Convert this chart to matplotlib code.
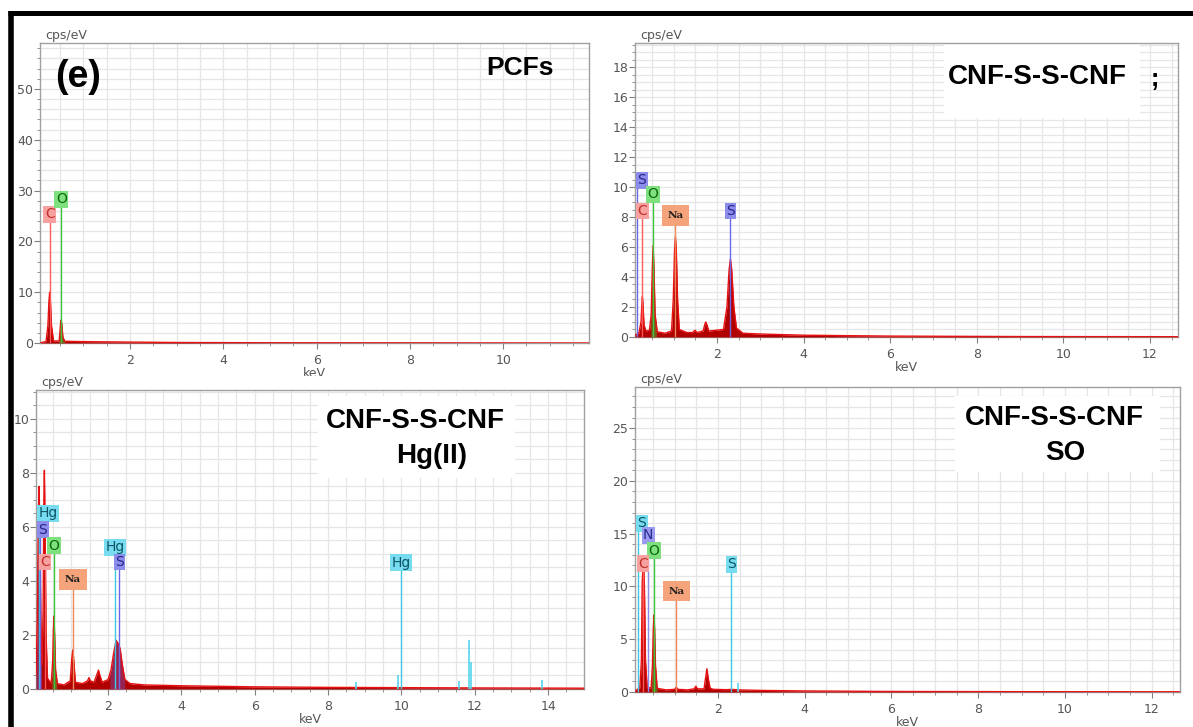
import matplotlib
matplotlib.use("Agg")
import numpy as np
import matplotlib.pyplot as plt
from matplotlib.ticker import MultipleLocator
from matplotlib.lines import Line2D
from matplotlib.patches import Rectangle
from matplotlib.transforms import Bbox, TransformedBbox

W, H = 1193, 727

# ---- spectra (keV, cps/eV) ----
pcf_kev = [0.07, 0.20, 0.24, 0.26, 0.277, 0.295, 0.315, 0.36, 0.48, 0.50, 0.515, 0.525, 0.54,
           0.56, 0.60, 0.8, 1.2, 2.0, 3.0, 5.0, 11.84]
pcf_cps = [0.0, 0.3, 3.5, 8.0, 10.0, 8.0, 3.5, 0.4, 0.4, 2.5, 4.2, 4.5, 3.5,
           1.2, 0.35, 0.3, 0.25, 0.18, 0.1, 0.05, 0.0]

ss_kev = [0.106, 0.2, 0.245, 0.265, 0.277, 0.29, 0.315, 0.36, 0.44, 0.48, 0.505, 0.525, 0.545,
          0.57, 0.62, 0.8, 0.95, 0.99, 1.02, 1.04, 1.06, 1.09, 1.13, 1.3, 1.44, 1.49, 1.54,
          1.68, 1.72, 1.74, 1.77, 1.81, 2.15, 2.23, 2.28, 2.31, 2.34, 2.39, 2.45, 2.6, 3.0,
          4.0, 6.0, 9.0, 12.65]
ss_cps = [0.1, 0.3, 1.0, 2.2, 2.7, 2.2, 0.8, 0.4, 0.45, 1.5, 4.5, 6.1, 4.5,
          1.5, 0.35, 0.25, 0.4, 2.5, 5.8, 6.7, 5.8, 2.5, 0.5, 0.3, 0.3, 0.45, 0.3,
          0.4, 0.85, 1.0, 0.8, 0.4, 0.5, 2.0, 4.5, 5.2, 4.5, 2.0, 0.6, 0.25, 0.2,
          0.12, 0.06, 0.03, 0.02]

hg_kev = [0.036, 0.07, 0.10, 0.12, 0.14, 0.17, 0.2, 0.23, 0.25, 0.265, 0.28, 0.31, 0.35, 0.45,
          0.49, 0.51, 0.525, 0.545, 0.57, 0.62, 0.8, 0.97, 1.01, 1.04, 1.07, 1.11, 1.3, 1.44,
          1.48, 1.52, 1.62, 1.70, 1.74, 1.78, 1.84, 2.0, 2.08, 2.15, 2.22, 2.27, 2.33, 2.39,
          2.46, 2.6, 3.0, 4.0, 6.0, 8.0, 10.0, 12.0, 14.98]
hg_cps = [0.5, 2.5, 6.5, 7.5, 6.0, 2.5, 0.9, 3.0, 7.0, 8.1, 6.5, 2.0, 0.4, 0.2,
          1.0, 2.2, 2.7, 2.0, 0.7, 0.2, 0.15, 0.3, 1.1, 1.45, 1.0, 0.25, 0.2, 0.3,
          0.42, 0.3, 0.25, 0.55, 0.7, 0.5, 0.25, 0.35, 0.7, 1.3, 1.8, 1.7, 1.5, 0.9,
          0.35, 0.2, 0.15, 0.12, 0.08, 0.06, 0.05, 0.04, 0.03]
hg_spike_kev = [8.76, 9.92, 11.57, 11.84, 11.9, 13.84]
hg_spike_cps = [0.25, 0.5, 0.3, 1.8, 1.0, 0.35]

so_kev = [0.088, 0.2, 0.235, 0.255, 0.27, 0.29, 0.305, 0.33, 0.37, 0.46, 0.49, 0.51, 0.525,
          0.54, 0.56, 0.6, 0.8, 1.0, 1.04, 1.08, 1.3, 1.45, 1.49, 1.53, 1.68, 1.71, 1.745,
          1.78, 1.82, 1.9, 2.2, 2.3, 2.5, 3.0, 4.0, 6.0, 9.0, 12.65]
so_cps = [0.1, 0.4, 3.0, 10.5, 11.6, 11.7, 10.0, 3.0, 0.4, 0.4, 2.5, 6.0, 7.3,
          6.0, 2.5, 0.35, 0.2, 0.25, 0.45, 0.25, 0.2, 0.3, 0.55, 0.3, 0.3, 1.2, 2.2,
          1.2, 0.35, 0.25, 0.22, 0.25, 0.2, 0.15, 0.1, 0.05, 0.03, 0.02]
so_spike_kev = [2.47]
so_spike_cps = [0.9]

# ---- element markers: name, line energy, label height ----
pcf_el = ['C', 'O']
pcf_el_kev = [0.277, 0.525]
pcf_el_y = [25.3, 28.3]
pcf_el_sty = ['C', 'O']

ss_el = ['S', 'C', 'O', 'Na', 'S']
ss_el_kev = [0.149, 0.277, 0.525, 1.041, 2.307]
ss_el_y = [10.45, 8.4, 9.5, 8.1, 8.4]
ss_el_sty = ['S', 'C', 'O', 'Na', 'S']

hg_el = ['Hg', 'S', 'C', 'O', 'Na', 'Hg', 'S', 'Hg']
hg_el_kev = [0.12, 0.149, 0.277, 0.525, 1.041, 2.195, 2.307, 9.989]
hg_el_y = [6.5, 5.9, 4.7, 5.3, 4.05, 5.25, 4.7, 4.67]
hg_el_sty = ['Hg', 'S', 'C', 'O', 'Na', 'Hg', 'S', 'Hg']

so_el = ['S', 'N', 'O', 'C', 'Na', 'S']
so_el_kev = [0.149, 0.392, 0.525, 0.277, 1.041, 2.307]
so_el_y = [16.0, 14.85, 13.4, 12.15, 9.55, 12.1]
so_el_sty = ['Hg', 'N', 'O', 'C', 'Na', 'Hg']

# line colour, box colour, text colour
styles = {
    'C': ('#ff5a5a', '#f7a1a1', '#c0302a'),
    'O': ('#3cc83c', '#7fe07f', '#0b6b0b'),
    'S': ('#6a6ae8', '#8c8cea', '#26268c'),
    'N': ('#8a8ae8', '#9a9af0', '#2a2a90'),
    'Hg': ('#3cc8e6', '#77dcef', '#0b5566'),
    'Na': ('#f08a5a', '#f5a37a', '#222222'),
}

fig = plt.figure(figsize=(W / 100, H / 100), dpi=100)


def px_rect(l, t, r, b):
    return [l / W, 1 - b / H, (r - l) / W, (b - t) / H]


def fx(x):
    return x / W


def fy(y):
    return 1 - y / H


def setup(ax, xlim, ylim, ymaj, ymin):
    ax.set_xlim(*xlim)
    ax.set_ylim(*ylim)
    ax.set_axisbelow(True)
    ax.xaxis.set_major_locator(MultipleLocator(2))
    ax.xaxis.set_minor_locator(MultipleLocator(0.5))
    ax.yaxis.set_major_locator(MultipleLocator(ymaj))
    ax.yaxis.set_minor_locator(MultipleLocator(ymin))
    ax.grid(which='both', color='#e6e6e6', lw=0.9)
    for s in ax.spines.values():
        s.set_color('#a0a0a0')
        s.set_linewidth(1)
    ax.tick_params(which='both', direction='out', color='#808080', labelsize=9,
                   labelcolor='#555555')
    ax.tick_params(which='major', length=4, width=0.8)
    ax.tick_params(which='minor', length=2.5, width=0.6)
    ax.tick_params(axis='y', pad=1)
    ax.tick_params(axis='x', pad=4)
    ax.set_xlabel('keV', fontsize=9, color='#555555', labelpad=0)
    ax.text(0.01, 1.004, 'cps/eV', transform=ax.transAxes, ha='left', va='bottom',
            fontsize=9, color='#555555')


def spectrum(ax, kev, cps):
    ax.fill_between(kev, cps, 0, color='#b00000', lw=0, zorder=3)
    ax.plot(kev, cps, color='#e81010', lw=1, zorder=4)


def tint(ax, kev, cps, lo, hi, color, alpha=0.45):
    xs = [lo] + [k for k in kev if lo < k < hi] + [hi]
    ys = np.interp(xs, kev, cps)
    ax.fill_between(xs, ys, 0, color=color, alpha=alpha, lw=0, zorder=3.5)


all_labels = []


def markers(ax, names, kev, ys, sty):
    for n, e, y, s in zip(names, kev, ys, sty):
        lc, fc, tc = styles[s]
        ax.vlines(e, 0, y, color=lc, lw=1, zorder=5)
        if n == 'Na':
            t = ax.text(e, y, n, ha='center', va='center', fontsize=7.5, color=tc,
                        family='DejaVu Serif', weight='bold', zorder=7,
                        bbox=dict(boxstyle='square,pad=0.55', fc=fc, ec='none'))
        else:
            t = ax.text(e, y, n, ha='center', va='center', fontsize=10, color=tc,
                        zorder=7, bbox=dict(boxstyle='square,pad=0.1', fc=fc, ec='none'))
        all_labels.append((ax, t))


def white_box(ax, l, t, r, b):
    ax.add_patch(Rectangle((fx(l), fy(b)), (r - l) / W, (b - t) / H,
                           transform=fig.transFigure, fc='white', ec='none', zorder=1))


# ---- panel (e) PCFs ----
ax1 = fig.add_axes(px_rect(40, 43, 589, 343))
setup(ax1, (0.07, 11.84), (0, 59.05), 10, 2)
spectrum(ax1, pcf_kev, pcf_cps)
tint(ax1, pcf_kev, pcf_cps, 0.47, 0.60, '#3cc83c')
markers(ax1, pcf_el, pcf_el_kev, pcf_el_y, pcf_el_sty)

# ---- CNF-S-S-CNF ----
ax2 = fig.add_axes(px_rect(635, 43, 1178, 337))
setup(ax2, (0.106, 12.65), (0, 19.6), 2, 0.5)
white_box(ax2, 944, 44, 1140, 118)
spectrum(ax2, ss_kev, ss_cps)
tint(ax2, ss_kev, ss_cps, 0.47, 0.60, '#3cc83c')
markers(ax2, ss_el, ss_el_kev, ss_el_y, ss_el_sty)

# ---- CNF-S-S-CNF Hg(II) ----
ax3 = fig.add_axes(px_rect(36, 390, 584, 689))
setup(ax3, (0.036, 14.98), (0, 11.07), 2, 0.5)
white_box(ax3, 318, 396, 515, 478)
spectrum(ax3, hg_kev, hg_cps)
tint(ax3, hg_kev, hg_cps, 0.036, 0.19, '#6a6ae8', 0.35)
tint(ax3, hg_kev, hg_cps, 0.47, 0.60, '#3cc83c')
tint(ax3, hg_kev, hg_cps, 2.05, 2.46, '#6a6ae8', 0.35)
ax3.vlines(hg_spike_kev, 0, hg_spike_cps, color='#55d4ec', lw=1.2, zorder=5)
markers(ax3, hg_el, hg_el_kev, hg_el_y, hg_el_sty)

# ---- CNF-S-S-CNF SO ----
ax4 = fig.add_axes(px_rect(635, 387, 1180, 692))
setup(ax4, (0.088, 12.65), (0, 28.9), 5, 1)
white_box(ax4, 955, 396, 1160, 472)
spectrum(ax4, so_kev, so_cps)
tint(ax4, so_kev, so_cps, 0.47, 0.60, '#3cc83c')
ax4.vlines(so_spike_kev, 0, so_spike_cps, color='#55d4ec', lw=1.2, zorder=5)
markers(ax4, so_el, so_el_kev, so_el_y, so_el_sty)

# keep label boxes inside the left spine
fig.canvas.draw()
for ax, t in all_labels:
    bb = t.get_bbox_patch().get_window_extent()
    x0 = ax.bbox.x0 + 1
    if bb.x0 < x0:
        xd, yd = ax.transData.transform((t.get_position()[0], t.get_position()[1]))
        nx = ax.transData.inverted().transform((xd + (x0 - bb.x0), yd))[0]
        t.set_x(nx)

# ---- titles ----
tf = 'Liberation Sans'
fig.text(fx(78), fy(77), '(e)', ha='center', va='center', fontsize=27, weight='bold', family=tf)
fig.text(fx(520), fy(68), 'PCFs', ha='center', va='center', fontsize=19, weight='bold', family=tf)
fig.text(fx(1037), fy(77), 'CNF-S-S-CNF', ha='center', va='center', fontsize=20, weight='bold', family=tf)
fig.text(fx(1155), fy(79), ';', ha='center', va='center', fontsize=18, weight='bold', family=tf)
fig.text(fx(415), fy(421), 'CNF-S-S-CNF', ha='center', va='center', fontsize=20, weight='bold', family=tf)
fig.text(fx(432), fy(456), 'Hg(II)', ha='center', va='center', fontsize=20, weight='bold', family=tf)
fig.text(fx(1054), fy(418), 'CNF-S-S-CNF', ha='center', va='center', fontsize=20, weight='bold', family=tf)
fig.text(fx(1065), fy(453), 'SO', ha='center', va='center', fontsize=20, weight='bold', family=tf)

# black frame on top and left
fig.add_artist(Line2D([fx(8), 1], [fy(12.5), fy(12.5)], transform=fig.transFigure,
                      color='black', lw=3.6, solid_capstyle='butt'))
fig.add_artist(Line2D([fx(10.5), fx(10.5)], [0, fy(10.5)], transform=fig.transFigure,
                      color='black', lw=4, solid_capstyle='butt'))

# top-row label is partly hidden in the original
ax1.xaxis.label.set_clip_box(TransformedBbox(Bbox([[0, fy(376)], [1, 1]]), fig.transFigure))
ax1.xaxis.label.set_clip_on(True)

fig.savefig('out.png', dpi=100, facecolor='white')
